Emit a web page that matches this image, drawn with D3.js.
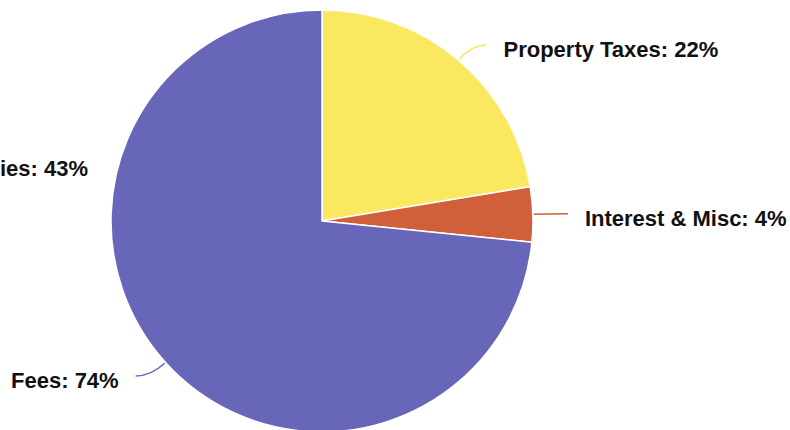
<!DOCTYPE html>
<html>
<head>
<meta charset="utf-8">
<title>Revenue pie</title>
<style>
  body { margin: 0; background: #fff; }
  svg text { font-family: "Liberation Sans", Arial, sans-serif; font-weight: bold; font-size: 22px; fill: #111; }
</style>
</head>
<body>
<svg id="chart" width="790" height="430"></svg>
<script src="https://d3js.org/d3.v7.min.js"></script>
<script>
// data
var categories = ["Property Taxes", "Interest & Misc", "Fees"];
var values = [22.4, 4.2, 73.4];
var labelPct = [22, 4, 74];
var colors = ["#f9e860", "#d0603a", "#6866b9"];
// stray label with no slice, clipped at left edge
var strayLabel = ["Subsidies: 43%"];

var width = 790, height = 430,
    cx = 322, cy = 221, radius = 211;

var svg = d3.select("#chart");
var g = svg.append("g").attr("transform", "translate(" + cx + "," + cy + ")");

var pie = d3.pie().sort(null).value(function(d) { return d; });
var arcs = pie(values);

var arc = d3.arc().innerRadius(0).outerRadius(radius);

g.selectAll("path.slice")
  .data(arcs)
  .enter().append("path")
    .attr("class", "slice")
    .attr("d", arc)
    .attr("fill", function(d, i) { return colors[i]; })
    .attr("stroke", "#fff")
    .attr("stroke-width", 1.5)
    .attr("stroke-linejoin", "round");

function pt(a, r) {
  return [Math.sin(a) * r, -Math.cos(a) * r];
}

// connectors + labels
arcs.forEach(function(d, i) {
  var mid = (d.startAngle + d.endAngle) / 2;
  var side = Math.sin(mid) >= 0 ? 1 : -1;
  var s = pt(mid, radius + 1);
  var c = pt(mid, radius + 20);
  var e = [c[0] + side * 15, c[1]];

  g.append("path")
    .attr("d", "M" + s[0] + "," + s[1] + " Q" + c[0] + "," + c[1] + " " + e[0] + "," + e[1])
    .attr("fill", "none")
    .attr("stroke", colors[i])
    .attr("stroke-width", 1.5);

  g.append("text")
    .attr("x", e[0] + side * 17)
    .attr("y", e[1] + 5)
    .attr("dominant-baseline", "central")
    .attr("text-anchor", side > 0 ? "start" : "end")
    .text(categories[i] + ": " + labelPct[i] + "%");
});

g.append("text")
  .attr("x", -radius - 23)
  .attr("y", -53)
  .attr("dominant-baseline", "central")
  .attr("text-anchor", "end")
  .text(strayLabel[0]);
</script>
</body>
</html>
